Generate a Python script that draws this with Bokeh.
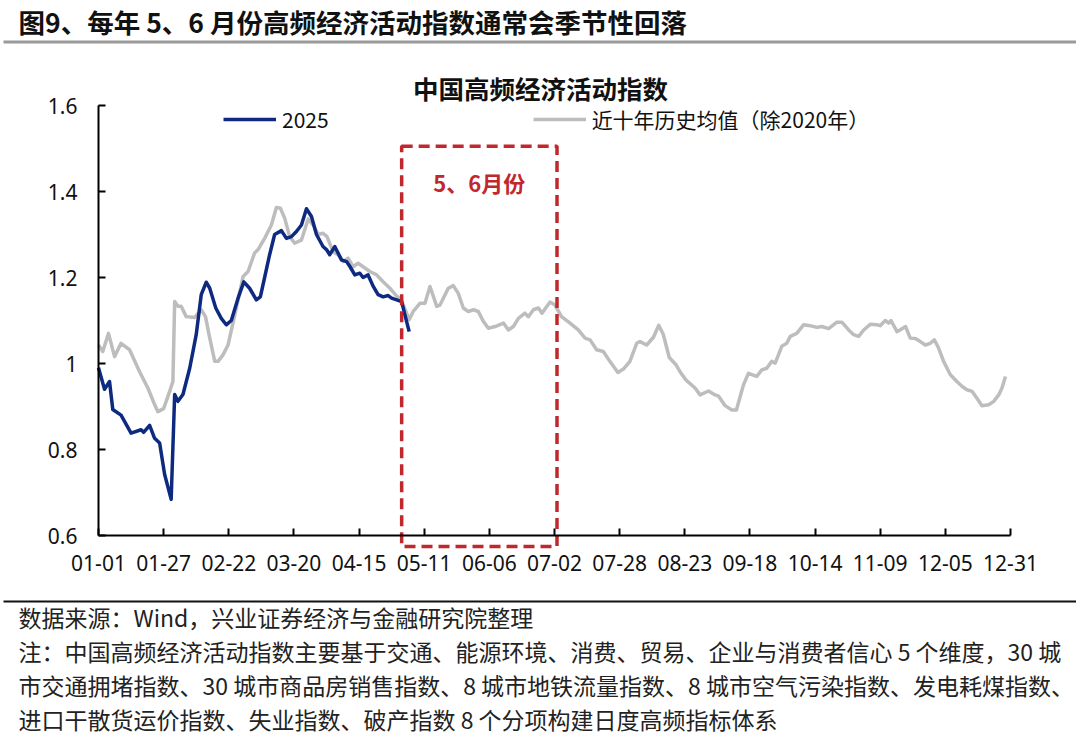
from bokeh.plotting import figure
from bokeh.models import (Range1d, FixedTicker, NumeralTickFormatter, Label,
                          Legend, LegendItem, BoxAnnotation)
from bokeh.core.properties import value
from bokeh.embed import file_html
from bokeh.resources import INLINE

# ---------------- data ----------------
tick_days = [0, 26, 52, 78, 104, 130, 156, 182, 208, 234, 260, 286, 312, 338, 364]
tick_labels = ["01-01", "01-27", "02-22", "03-20", "04-15", "05-11", "06-06", "07-02",
               "07-28", "08-23", "09-18", "10-14", "11-09", "12-05", "12-31"]
y_ticks = [0.6, 0.8, 1.0, 1.2, 1.4, 1.6]

days_2025 = [0, 2.4, 4.4, 5.7, 9, 13, 17, 18, 20.4, 22.4, 24.4, 26.4, 29, 30.4, 31.7, 33.7,
             36.4, 39, 41, 43, 44.4, 46.8, 49, 51, 53, 55.7, 58, 60.3, 63, 64.6, 66.3, 68.3,
             70.3, 73, 75, 77, 79, 81, 83, 85, 87, 89.6, 91, 92.3, 94.3, 97, 99, 100.4,
             102.3, 104.3, 105.6, 107.6, 109.6, 111.6, 113.6, 115.6, 117, 121, 122.3, 124]
vals_2025 = [0.99, 0.94, 0.958, 0.893, 0.88, 0.838, 0.846, 0.84, 0.856, 0.826, 0.815, 0.742,
             0.684, 0.928, 0.912, 0.928, 0.989, 1.067, 1.16, 1.189, 1.175, 1.129, 1.105, 1.09,
             1.10, 1.152, 1.19, 1.175, 1.148, 1.155, 1.20, 1.253, 1.30, 1.309, 1.291, 1.295,
             1.307, 1.322, 1.36, 1.342, 1.30, 1.272, 1.265, 1.253, 1.272, 1.241, 1.237, 1.225,
             1.206, 1.21, 1.20, 1.206, 1.18, 1.16, 1.155, 1.158, 1.152, 1.144, 1.113, 1.074]

days_avg = [0, 1.7, 4, 6.4, 9, 12.4, 16.4, 19.7, 22, 23.7, 26, 28.4, 29.7, 30.4, 31.7, 33,
            35, 38.4, 41, 42.7, 44.4, 46.4, 47.7, 49.7, 51.7, 55, 57.7, 59.7, 62.3, 63.7,
            66.3, 69, 71, 72.6, 74.3, 76.3, 78.3, 81, 83.7, 85.7, 87.7, 89.6, 91.2, 93.6,
            95.6, 97.6, 99.6, 101.6, 103.6, 105.6, 108.3, 111, 113.6, 116.3, 118.5, 121,
            124, 125.6, 128.3, 130.3, 132.3, 135, 136.3, 139.6, 141.6, 143.6, 145.6, 147.6,
            149.6, 151.6, 153.6, 155.6, 158.3, 161.6, 163.6, 165.6, 167.6, 170.2, 171.6,
            173.6, 175.6, 177, 180.2, 182.2, 184.8, 188.2, 191.5, 194.2, 196.2, 198.8,
            201.5, 204.1, 207.3, 209.5, 212.1, 214.8, 216.1, 218.8, 221.5, 223.6, 225.4,
            227.8, 230.5, 232.1, 234.4, 238.1, 240.1, 243.5, 246.1, 247.5, 250.1, 252.8,
            254.6, 257.4, 259.4, 262.7, 264.7, 266.7, 268.7, 270.1, 272.7, 274.7, 276.1,
            278.7, 281.4, 284, 286.7, 288.7, 291.4, 294.7, 296.7, 299.4, 301.4, 303.4,
            305.4, 308, 310.7, 312, 314, 315.4, 316.3, 318.7, 320.7, 322.1, 324, 326, 328,
            330, 332, 333.6, 335.3, 337.3, 340, 342.6, 344.6, 346.6, 348.7, 350.6, 352.6,
            355.3, 357.3, 359.3, 360.6, 362]
vals_avg = [1.043, 1.028, 1.07, 1.016, 1.047, 1.032, 0.981, 0.943, 0.91, 0.888, 0.895, 0.935,
            0.958, 1.144, 1.133, 1.133, 1.109, 1.107, 1.125, 1.109, 1.059, 1.005, 1.005, 1.02,
            1.043, 1.129, 1.202, 1.214, 1.257, 1.265, 1.291, 1.322, 1.363, 1.361, 1.338,
            1.295, 1.28, 1.287, 1.336, 1.322, 1.30, 1.303, 1.295, 1.26, 1.253, 1.237, 1.245,
            1.225, 1.233, 1.225, 1.214, 1.206, 1.19, 1.175, 1.16, 1.146, 1.102, 1.121, 1.14,
            1.14, 1.179, 1.133, 1.136, 1.175, 1.181, 1.163, 1.129, 1.121, 1.125, 1.121, 1.098,
            1.082, 1.086, 1.094, 1.078, 1.086, 1.105, 1.117, 1.109, 1.125, 1.129, 1.117, 1.143,
            1.136, 1.109, 1.094, 1.078, 1.059, 1.055, 1.032, 1.028, 1.005, 0.979, 0.987, 1.005,
            1.047, 1.051, 1.043, 1.061, 1.089, 1.068, 1.014, 0.997, 0.981, 0.962, 0.943, 0.927,
            0.936, 0.927, 0.924, 0.902, 0.892, 0.892, 0.95, 0.977, 0.97, 0.985, 0.989, 1.005,
            1.001, 1.04, 1.047, 1.063, 1.07, 1.09, 1.088, 1.084, 1.086, 1.081, 1.096, 1.096,
            1.078, 1.067, 1.063, 1.078, 1.091, 1.09, 1.088, 1.10, 1.094, 1.10, 1.074, 1.081,
            1.086, 1.059, 1.058, 1.051, 1.043, 1.047, 1.055, 1.036, 1.005, 0.974, 0.958, 0.947,
            0.939, 0.935, 0.919, 0.902, 0.904, 0.912, 0.927, 0.943, 0.97]

window_days = [121, 183]          # May-June window
window_label = "5、6月份"

header = "图9、每年 5、6 月份高频经济活动指数通常会季节性回落"
chart_title = "中国高频经济活动指数"
legend_labels = ["2025", "近十年历史均值（除2020年）"]
footer_lines = [
    "数据来源：Wind，兴业证券经济与金融研究院整理",
    "注：中国高频经济活动指数主要基于交通、能源环境、消费、贸易、企业与消费者信心 5 个维度，30 城",
    "市交通拥堵指数、30  城市商品房销售指数、8  城市地铁流量指数、8  城市空气污染指数、发电耗煤指数、",
    "进口干散货运价指数、失业指数、破产指数 8 个分项构建日度高频指标体系",
]

# ---------------- layout / style ----------------
CJK = "Noto Sans CJK SC"
BLUE = "#0E2A80"
GRAY = "#BDBDBD"
RED = "#C0282D"

W, H = 1076, 736
# pixel anchors of the plotting area on the canvas
X0PX, X1PX = 98, 1010      # day 0 / day 364
Y1PX, Y0PX = 105, 535      # 1.6 / 0.6
ppd = (X1PX - X0PX) / 364.0
ppu = (Y0PX - Y1PX) / 1.0
x_start = -X0PX / ppd
x_end = (W - X0PX) / ppd
y_end = 1.6 + Y1PX / ppu
y_start = 0.6 - (H - Y0PX) / ppu


def sy(img_y):
    """screen-unit y (from frame bottom) for a canvas y measured from the top"""
    return H - img_y


p = figure(width=W, height=H, min_border=0,
           x_range=Range1d(x_start, x_end), y_range=Range1d(y_start, y_end),
           output_backend="svg", toolbar_location=None)
p.outline_line_color = None
p.xgrid.visible = False
p.ygrid.visible = False
p.background_fill_color = "white"
p.border_fill_color = "white"

# y axis
yax = p.yaxis[0]
yax.fixed_location = 0
yax.bounds = (0.6, 1.6)
yax.ticker = FixedTicker(ticks=y_ticks)
yax.formatter = NumeralTickFormatter(format="0.[0]")
yax.major_tick_in = 7
yax.major_tick_out = 0
yax.minor_tick_line_color = None
yax.axis_line_width = 2
yax.major_tick_line_width = 2
yax.axis_line_color = "black"
yax.major_tick_line_color = "black"
yax.major_label_text_font = "Noto Sans"
yax.major_label_text_font_size = "21px"
yax.major_label_text_color = "#111111"
yax.major_label_standoff = 21

# x axis
xax = p.xaxis[0]
xax.fixed_location = 0.6
xax.bounds = (0, 364)
xax.ticker = FixedTicker(ticks=tick_days)
xax.major_label_overrides = {d: l for d, l in zip(tick_days, tick_labels)}
xax.major_tick_in = 7
xax.major_tick_out = 0
xax.minor_tick_line_color = None
xax.axis_line_width = 2
xax.major_tick_line_width = 2
xax.axis_line_color = "black"
xax.major_tick_line_color = "black"
xax.major_label_text_font = "Noto Sans"
xax.major_label_text_font_size = "21px"
xax.major_label_text_color = "#111111"
xax.major_label_standoff = 19

# series
r_avg = p.line(days_avg, vals_avg, line_color=GRAY, line_width=3.5, line_join="round")
r_25 = p.line(days_2025, vals_2025, line_color=BLUE, line_width=3.5, line_join="round")

# May-June window
p.quad(left=[window_days[0]], right=[window_days[1]], bottom=[0.5744], top=[1.505],
       fill_alpha=0, line_color=RED, line_width=3.5, line_dash="11 6")
p.text(x=[(window_days[0] + window_days[1]) / 2], y=[1.421], text=[window_label],
       text_align="center", text_baseline="middle", text_color=RED,
       text_font=value(CJK), text_font_size="22px", text_font_style="bold")

legend = Legend(items=[LegendItem(label=legend_labels[0], renderers=[r_25]),
                       LegendItem(label=legend_labels[1], renderers=[r_avg])],
                orientation="horizontal", location=(223, sy(134)),
                glyph_width=53, glyph_height=20, label_standoff=6, spacing=204,
                padding=0, margin=0, border_line_alpha=0, background_fill_alpha=0,
                label_text_font=CJK, label_text_font_size="21px", label_text_color="#111111")
p.add_layout(legend)

# header, chart title and notes
p.add_layout(Label(x=18, y=sy(21), x_units="screen", y_units="screen", text=header,
                   text_font=CJK, text_font_size="26.5px", text_font_style="bold",
                   text_baseline="middle", text_align="left", text_color="#111111"))
p.add_layout(Label(x=540, y=sy(87), x_units="screen", y_units="screen", text=chart_title,
                   text_font=CJK, text_font_size="25.5px", text_font_style="bold",
                   text_baseline="middle", text_align="center", text_color="#111111"))
for i, line in enumerate(footer_lines):
    p.add_layout(Label(x=18, y=sy(616 + 34 * i), x_units="screen", y_units="screen",
                       text=line, text_font=CJK, text_font_size="23px",
                       text_baseline="middle", text_align="left", text_color="#222222"))

# rules
p.add_layout(BoxAnnotation(left=3, right=1077, top=sy(40), bottom=sy(43),
                           left_units="screen", right_units="screen", top_units="screen",
                           bottom_units="screen", fill_color="#9A9A9A", fill_alpha=1,
                           line_alpha=0))
p.add_layout(BoxAnnotation(left=3, right=1077, top=sy(600), bottom=sy(602),
                           left_units="screen", right_units="screen", top_units="screen",
                           bottom_units="screen", fill_color="#111111", fill_alpha=1,
                           line_alpha=0))

open("out.html", "w").write(file_html(p, INLINE))
